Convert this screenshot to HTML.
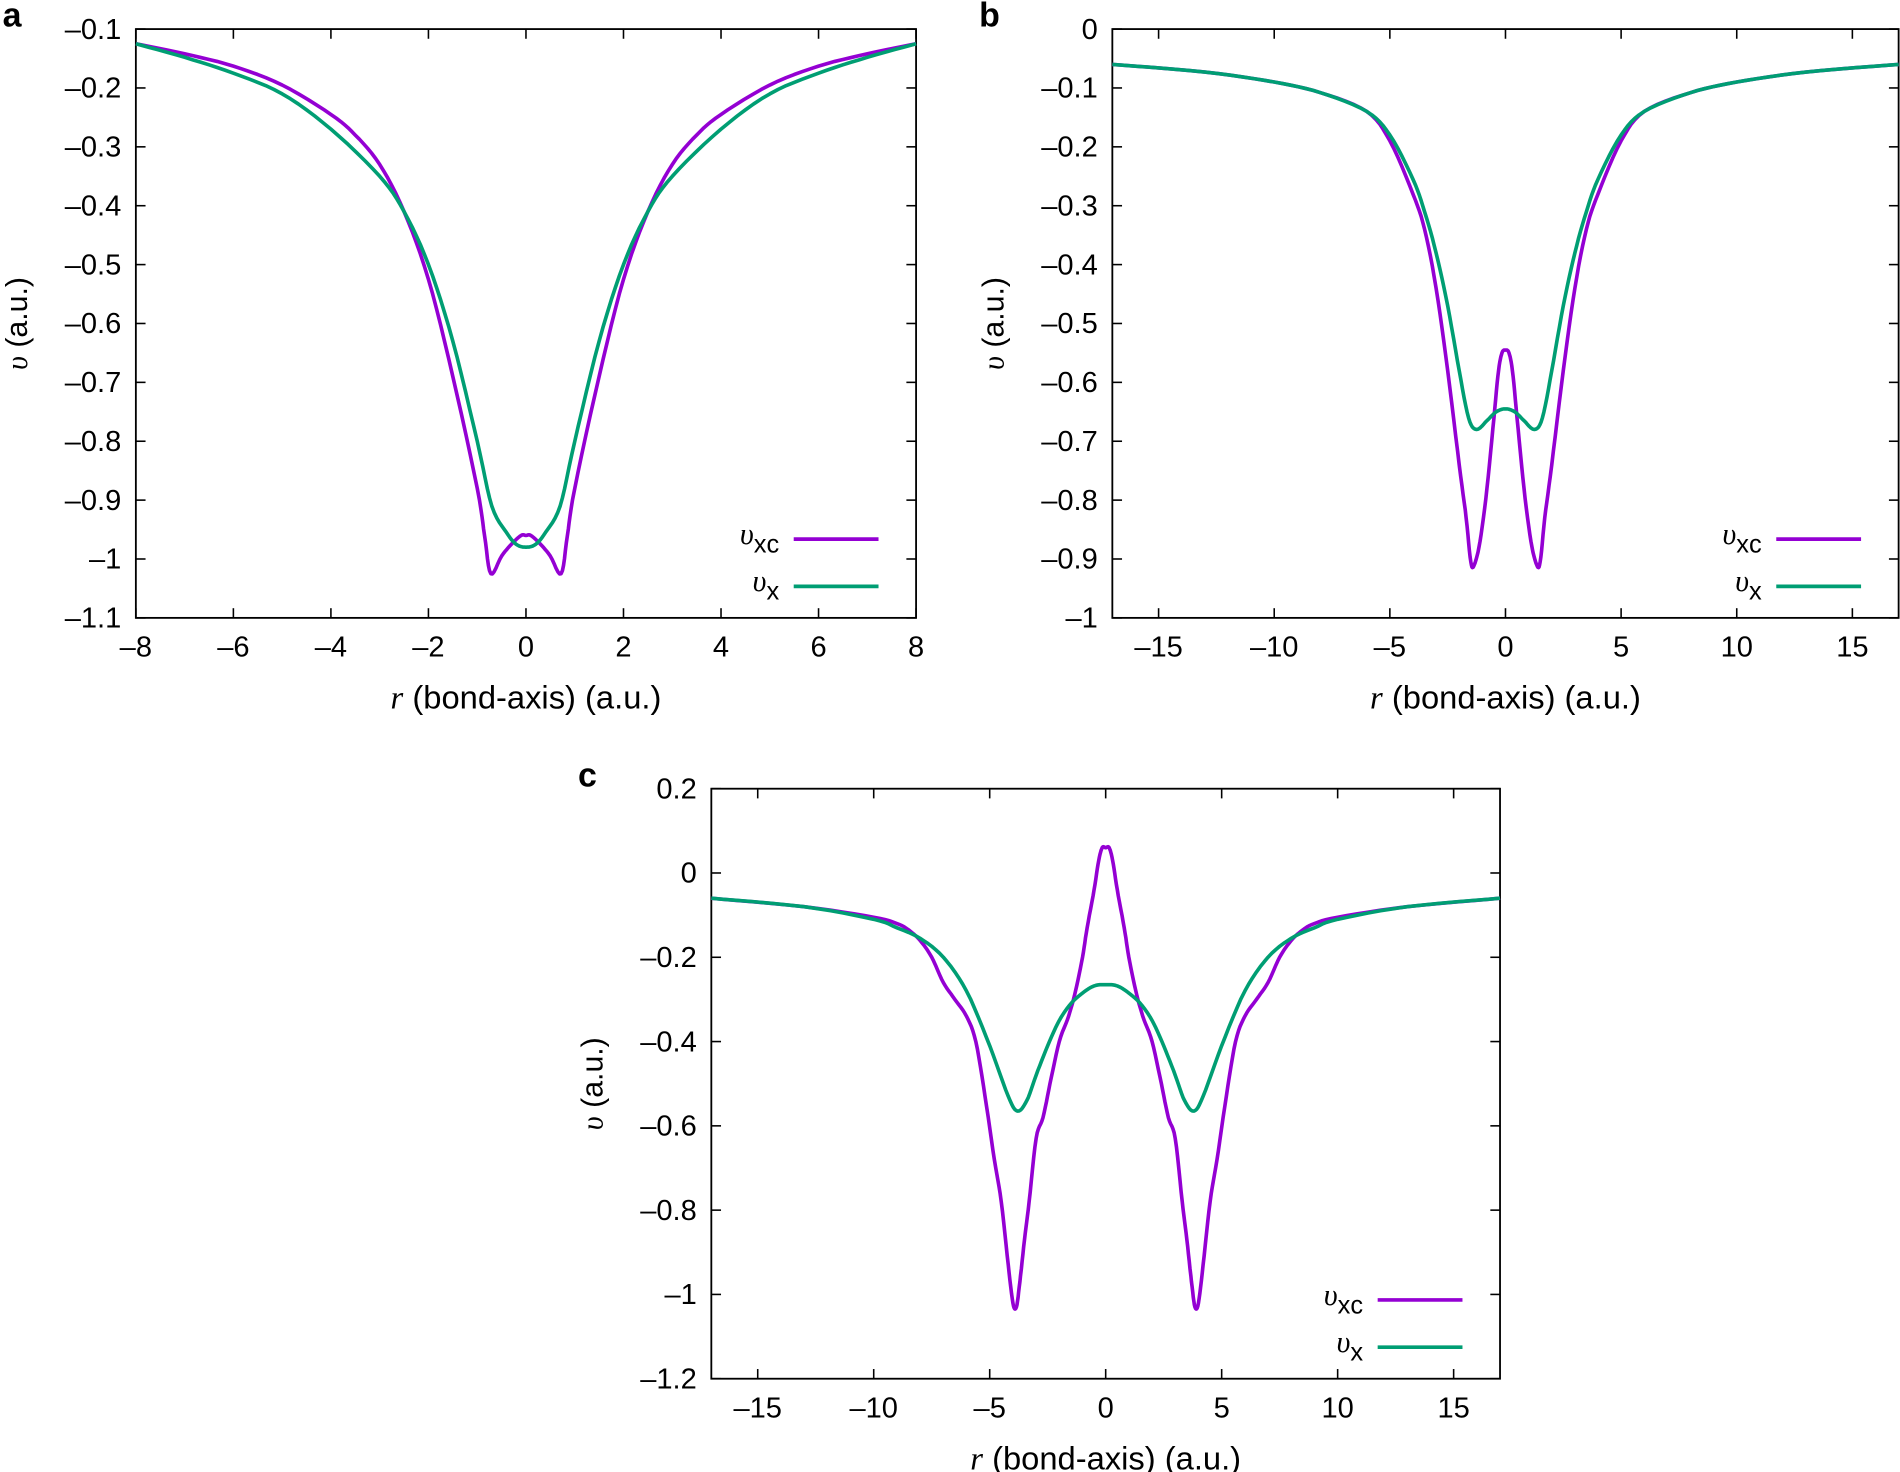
<!DOCTYPE html>
<html><head><meta charset="utf-8">
<style>
html,body{margin:0;padding:0;background:#fff;}
svg{display:block;}
text{font-family:"Liberation Sans",sans-serif;fill:#000;}
.it{font-family:"Liberation Serif",serif;font-style:italic;}
</style></head>
<body>
<svg id="s" width="1900" height="1472" viewBox="0 0 1568 1215" xmlns="http://www.w3.org/2000/svg"></svg>
<script>
const s=document.getElementById('s');
const NS='http://www.w3.org/2000/svg';
function el(t,a,txt){const e=document.createElementNS(NS,t);for(const k in a)e.setAttribute(k,a[k]);if(txt!==undefined)e.textContent=txt;s.appendChild(e);return e;}
function fmt(v){return (v<0?'\u2013':'')+String(Math.abs(v));}
function sym(pts){const r=[];for(let i=pts.length-1;i>=0;i--)if(pts[i][0]!==0)r.push([-pts[i][0],pts[i][1]]);return r.concat(pts);}
function interp(pts,n){const out=[];const P=i=>pts[Math.max(0,Math.min(pts.length-1,i))];
 for(let i=0;i<pts.length-1;i++){const p0=P(i-1),p1=P(i),p2=P(i+1),p3=P(i+2);
  for(let k=0;k<n;k++){const t=k/n,t2=t*t,t3=t2*t;const f=j=>0.5*((2*p1[j])+(-p0[j]+p2[j])*t+(2*p0[j]-5*p1[j]+4*p2[j]-p3[j])*t2+(-p0[j]+3*p1[j]-3*p2[j]+p3[j])*t3);out.push([f(0),f(1)]);}}
 out.push(pts[pts.length-1]);return out;}
function panel(o){
  const X=v=>o.x0+(v-o.xmin)/(o.xmax-o.xmin)*(o.x1-o.x0);
  const Y=v=>o.y0+(o.ymax-v)/(o.ymax-o.ymin)*(o.y1-o.y0);
  el('rect',{x:o.x0,y:o.y0,width:o.x1-o.x0,height:o.y1-o.y0,fill:'none',stroke:'#000','stroke-width':1.5});
  o.xt.forEach(v=>{const x=X(v);el('line',{x1:x,y1:o.y1,x2:x,y2:o.y1-8,stroke:'#000','stroke-width':1.3});el('line',{x1:x,y1:o.y0,x2:x,y2:o.y0+8,stroke:'#000','stroke-width':1.3});el('text',{x:x,y:o.y1+32,'font-size':24,'text-anchor':'middle'},fmt(v));});
  o.yt.forEach(v=>{const y=Y(v);el('line',{x1:o.x0,y1:y,x2:o.x0+8,y2:y,stroke:'#000','stroke-width':1.3});el('line',{x1:o.x1,y1:y,x2:o.x1-8,y2:y,stroke:'#000','stroke-width':1.3});el('text',{x:o.x0-12,y:y+8,'font-size':24,'text-anchor':'end'},fmt(v));});
  const cx=(o.x0+o.x1)/2;
  const t=el('text',{x:cx,y:o.y1+75,'font-size':27,'text-anchor':'middle'});
  const a=document.createElementNS(NS,'tspan');a.setAttribute('class','it');a.textContent='r';t.appendChild(a);
  const b=document.createElementNS(NS,'tspan');b.textContent=' (bond-axis) (a.u.)';t.appendChild(b);
  const cy=(o.y0+o.y1)/2;
  const g=el('text',{x:o.ylx,y:cy,'font-size':25,'text-anchor':'middle',transform:`rotate(-90 ${o.ylx} ${cy})`});
  const c=document.createElementNS(NS,'tspan');c.setAttribute('class','it');c.textContent='\u03c5';g.appendChild(c);
  const d=document.createElementNS(NS,'tspan');d.textContent=' (a.u.)';g.appendChild(d);
  el('text',{x:o.x0-110,y:o.y0-2,'font-size':28,'font-weight':'bold'},o.lab);
  const path=(pts,col)=>{const p=interp(sym(pts),6).map(q=>X(q[0]).toFixed(1)+','+Y(q[1]).toFixed(1)).join(' ');el('polyline',{points:p,fill:'none',stroke:col,'stroke-width':3,'stroke-linejoin':'round'});};
  path(o.xc,'#9400d3');path(o.x,'#009e73');
  const lx=o.x1-101, ly1=o.y1-65, ly2=o.y1-26;
  el('line',{x1:lx,y1:ly1,x2:lx+70,y2:ly1,stroke:'#9400d3','stroke-width':3});
  el('line',{x1:lx,y1:ly2,x2:lx+70,y2:ly2,stroke:'#009e73','stroke-width':3});
  const t1=el('text',{x:lx-12,y:ly1+4,'font-size':25,'text-anchor':'end'});
  let e=document.createElementNS(NS,'tspan');e.setAttribute('class','it');e.textContent='\u03c5';t1.appendChild(e);
  e=document.createElementNS(NS,'tspan');e.setAttribute('dy','7');e.setAttribute('font-size','21');e.textContent='xc';t1.appendChild(e);
  const t2=el('text',{x:lx-12,y:ly2+4,'font-size':25,'text-anchor':'end'});
  e=document.createElementNS(NS,'tspan');e.setAttribute('class','it');e.textContent='\u03c5';t2.appendChild(e);
  e=document.createElementNS(NS,'tspan');e.setAttribute('dy','7');e.setAttribute('font-size','21');e.textContent='x';t2.appendChild(e);
}
panel({x0:112,x1:756,y0:24,y1:510,xmin:-8,xmax:8,ymin:-1.1,ymax:-0.1,lab:'a',ylx:22,
 xt:[-8,-6,-4,-2,0,2,4,6,8],yt:[-0.1,-0.2,-0.3,-0.4,-0.5,-0.6,-0.7,-0.8,-0.9,-1,-1.1],
 x:[[0,-0.98],[0.2,-0.975],[0.4,-0.955],[0.7,-0.91],[1,-0.8],[1.5,-0.63],[2,-0.5],[2.5,-0.41],[3,-0.35],[4,-0.27],[5,-0.21],[6,-0.175],[7,-0.148],[8,-0.125]],
 xc:[[0,-0.96],[0.1,-0.96],[0.3,-0.975],[0.5,-0.995],[0.72,-1.025],[0.85,-0.96],[1,-0.88],[1.5,-0.69],[2,-0.525],[2.5,-0.41],[3,-0.33],[3.5,-0.28],[4,-0.245],[5,-0.195],[6,-0.163],[7,-0.142],[8,-0.125]]});
panel({x0:918,x1:1567,y0:24,y1:510,xmin:-17,xmax:17,ymin:-1,ymax:0,lab:'b',ylx:828,
 xt:[-15,-10,-5,0,5,10,15],yt:[0,-0.1,-0.2,-0.3,-0.4,-0.5,-0.6,-0.7,-0.8,-0.9,-1],
 x:[[0,-0.645],[0.4,-0.65],[0.8,-0.665],[1.25,-0.68],[1.6,-0.66],[2,-0.58],[2.5,-0.47],[3,-0.38],[3.5,-0.31],[4,-0.255],[5,-0.18],[6,-0.14],[8,-0.108],[10,-0.09],[13,-0.073],[17,-0.06]],
 xc:[[0,-0.545],[0.15,-0.55],[0.3,-0.58],[0.5,-0.66],[0.8,-0.78],[1.1,-0.87],[1.35,-0.91],[1.5,-0.905],[1.7,-0.83],[2,-0.74],[2.5,-0.58],[3,-0.44],[3.5,-0.34],[4,-0.28],[5,-0.19],[6,-0.14],[8,-0.108],[10,-0.09],[13,-0.073],[17,-0.06]]});
panel({x0:587,x1:1238,y0:651,y1:1138,xmin:-17,xmax:17,ymin:-1.2,ymax:0.2,lab:'c',ylx:497,
 xt:[-15,-10,-5,0,5,10,15],yt:[0.2,0,-0.2,-0.4,-0.6,-0.8,-1,-1.2],
 x:[[0,-0.265],[0.5,-0.268],[1,-0.285],[1.5,-0.31],[2,-0.35],[2.5,-0.41],[3,-0.48],[3.4,-0.54],[3.8,-0.565],[4.2,-0.53],[5,-0.41],[6,-0.28],[7,-0.2],[8,-0.155],[9,-0.13],[10,-0.11],[13,-0.08],[17,-0.06]],
 xc:[[0,0.06],[0.15,0.06],[0.3,0.03],[0.5,-0.04],[0.8,-0.13],[1,-0.2],[1.3,-0.28],[1.6,-0.34],[2,-0.4],[2.4,-0.5],[2.7,-0.58],[3,-0.63],[3.3,-0.78],[3.5,-0.87],[3.7,-0.97],[3.85,-1.03],[4,-1.02],[4.2,-0.93],[4.5,-0.78],[4.8,-0.68],[5.2,-0.53],[5.6,-0.4],[6,-0.34],[6.5,-0.3],[7,-0.26],[7.5,-0.2],[8,-0.16],[8.5,-0.135],[9,-0.12],[10,-0.105],[13,-0.08],[17,-0.06]]});
</script>
</body></html>
